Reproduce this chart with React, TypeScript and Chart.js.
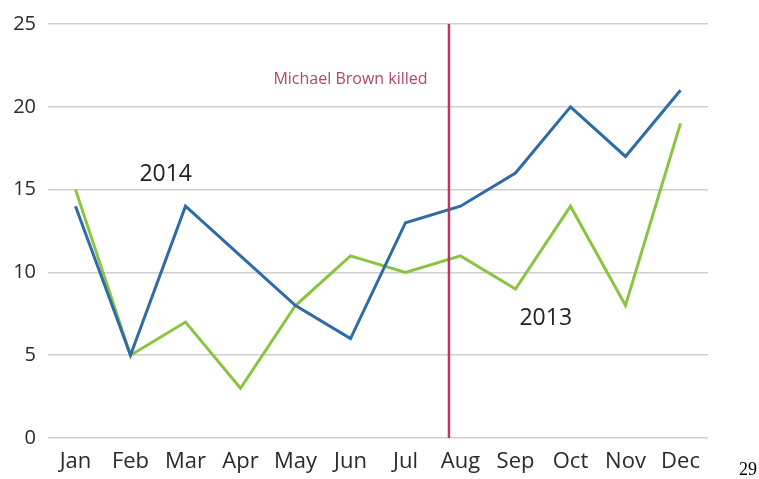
import React, { useEffect, useRef } from "react";
import { Chart, registerables } from "chart.js";

Chart.register(...registerables);

const months = ["Jan", "Feb", "Mar", "Apr", "May", "Jun", "Jul", "Aug", "Sep", "Oct", "Nov", "Dec"];
const values2014 = [14, 5, 14, 11, 8, 6, 13, 14, 16, 20, 17, 21];
const values2013 = [15, 5, 7, 3, 8, 11, 10, 11, 9, 14, 8, 19];
const yTicks = [0, 5, 10, 15, 20, 25];
// event: Aug 9 (index 7 band start + 9/31 of the month)
const eventIndex = 6.5 + 9 / 31;
const eventLabel = "Michael Brown killed";
const label2014 = { text: "2014", x: 1.64, y: 15.9 };
const label2013 = { text: "2013", x: 8.55, y: 7.2 };
const eventText = { x: 5.0, y: 21.65 };

const FONT = "'Open Sans', 'Noto Sans', sans-serif";

const overlay = {
  id: "overlay",
  afterDatasetsDraw(chart: any) {
    const { ctx, scales } = chart;
    const xs = scales.x;
    const ys = scales.y;
    ctx.save();
    // event line
    const ex = xs.getPixelForValue(eventIndex);
    ctx.strokeStyle = "#bd3860";
    ctx.lineWidth = 2.5;
    ctx.beginPath();
    ctx.moveTo(ex, ys.getPixelForValue(25));
    ctx.lineTo(ex, ys.getPixelForValue(0));
    ctx.stroke();
    // event text
    ctx.fillStyle = "#b5466d";
    ctx.font = `16px ${FONT}`;
    ctx.textAlign = "center";
    ctx.textBaseline = "middle";
    ctx.fillText(eventLabel, xs.getPixelForValue(eventText.x), ys.getPixelForValue(eventText.y));
    // series labels
    ctx.fillStyle = "#222";
    ctx.font = `23px ${FONT}`;
    for (const l of [label2014, label2013]) {
      ctx.fillText(l.text, xs.getPixelForValue(l.x), ys.getPixelForValue(l.y));
    }
    ctx.restore();
  },
};

export default function App() {
  const ref = useRef<HTMLCanvasElement>(null);
  useEffect(() => {
    if (!ref.current) return;
    const chart = new Chart(ref.current, {
      type: "line",
      data: {
        labels: months,
        datasets: [
          {
            label: "2014",
            data: values2014,
            borderColor: "#2f6ca6",
            borderWidth: 3,
            pointRadius: 0,
            tension: 0,
            fill: false,
          },
          {
            label: "2013",
            data: values2013,
            borderColor: "#8ac441",
            borderWidth: 3,
            pointRadius: 0,
            tension: 0,
            fill: false,
          },
        ],
      },
      options: {
        animation: false,
        responsive: false,
        maintainAspectRatio: false,
        layout: { padding: { top: 18, right: 51, left: 0, bottom: 0 } },
        plugins: { legend: { display: false }, tooltip: { enabled: false } },
        scales: {
          x: {
            offset: true,
            grid: { display: false, drawTicks: false },
            border: { display: false },
            ticks: { color: "#2a2a2a", font: { family: FONT, size: 22 }, padding: 11, maxRotation: 0, autoSkip: false },
            afterFit: (s: any) => { s.height = 41; },
          },
          y: {
            min: 0,
            max: 25,
            afterBuildTicks: (s: any) => { s.ticks = yTicks.map((v) => ({ value: v })); },
            grid: { color: "#cfcfcf", lineWidth: 1.5, drawTicks: false },
            border: { display: false },
            ticks: { color: "#2a2a2a", font: { family: FONT, size: 20 }, padding: 12 },
            afterFit: (s: any) => { s.width = 48; },
          },
        },
      },
      plugins: [overlay],
    });
    return () => chart.destroy();
  }, []);
  return (
    <div style={{ position: "fixed", left: 0, top: 0, width: 759, height: 479, background: "#fff" }}>
      <canvas ref={ref} width={759} height={479} style={{ display: "block" }} />
      <div style={{ position: "absolute", left: 739, top: 459, fontFamily: "'Liberation Serif', 'DejaVu Serif', serif", fontSize: 18, color: "#000" }}>29</div>
    </div>
  );
}
